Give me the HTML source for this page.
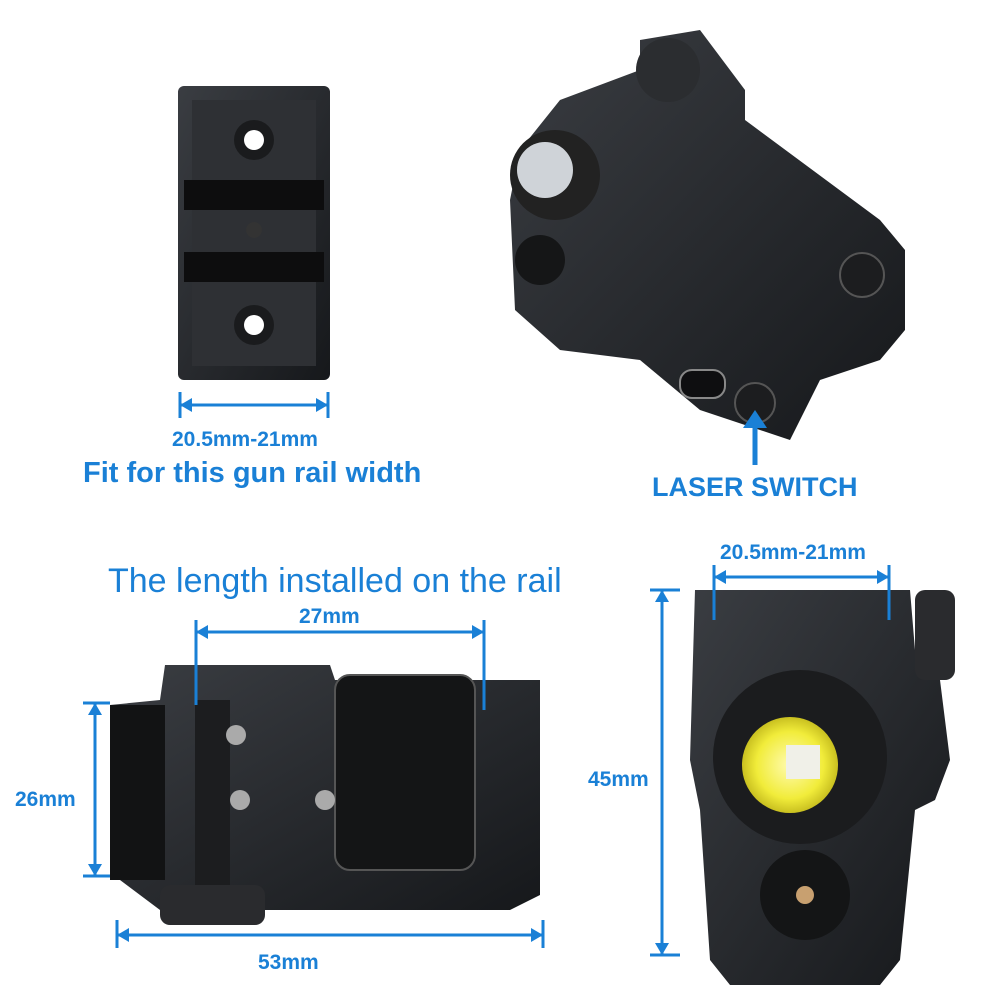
<!DOCTYPE html>
<html><head><meta charset="utf-8"><style>
body{margin:0;background:#fff;}
#c{position:relative;width:1001px;height:1001px;overflow:hidden;font-family:"Liberation Sans",sans-serif;}
.t{position:absolute;color:#1a80d6;font-weight:bold;white-space:nowrap;}
</style></head><body><div id="c">
<svg width="1001" height="1001" style="position:absolute;left:0;top:0">
<defs>
<linearGradient id="g1" x1="0" y1="0" x2="1" y2="1"><stop offset="0" stop-color="#3a3d42"/><stop offset="1" stop-color="#16181b"/></linearGradient>
<radialGradient id="ly" cx="0.5" cy="0.5" r="0.5"><stop offset="0" stop-color="#fffbb0"/><stop offset="0.7" stop-color="#f1ec3a"/><stop offset="1" stop-color="#c9c020"/></radialGradient>
</defs>
<rect x="178" y="86" width="152" height="294" rx="6" fill="url(#g1)"/>
<rect x="192" y="100" width="124" height="266" fill="#2e3034"/>
<rect x="184" y="180" width="140" height="30" fill="#0d0d0e"/>
<rect x="184" y="252" width="140" height="30" fill="#0d0d0e"/>
<circle cx="254" cy="140" r="20" fill="#1a1b1d"/><circle cx="254" cy="140" r="10" fill="#fff"/>
<circle cx="254" cy="325" r="20" fill="#1a1b1d"/><circle cx="254" cy="325" r="10" fill="#fff"/>
<circle cx="254" cy="230" r="8" fill="#333"/>
<path d="M520 150 L560 100 L640 70 L640 40 L700 30 L745 90 L745 120 L880 220 L905 250 L905 330 L880 360 L820 380 L790 440 L700 410 L640 360 L560 350 L515 310 L510 200 Z" fill="url(#g1)"/>
<circle cx="555" cy="175" r="45" fill="#222"/><circle cx="545" cy="170" r="28" fill="#cfd3d8"/>
<circle cx="540" cy="260" r="25" fill="#151617"/>
<circle cx="668" cy="70" r="32" fill="#2b2d30"/>
<rect x="680" y="370" width="45" height="28" rx="12" fill="#0e0e10" stroke="#888" stroke-width="2"/>
<circle cx="755" cy="403" r="20" fill="#1c1d1f" stroke="#555" stroke-width="2"/>
<circle cx="862" cy="275" r="22" fill="#1c1d1f" stroke="#555" stroke-width="2"/>
<path d="M110 705 L160 700 L165 665 L330 665 L335 680 L540 680 L540 895 L510 910 L160 910 L120 880 Z" fill="url(#g1)"/>
<rect x="110" y="705" width="55" height="175" fill="#121314"/>
<rect x="335" y="675" width="140" height="195" rx="15" fill="#141516" stroke="#555" stroke-width="2"/>
<rect x="195" y="700" width="35" height="190" fill="#1c1d1f"/>
<circle cx="236" cy="735" r="10" fill="#aaa"/><circle cx="240" cy="800" r="10" fill="#aaa"/><circle cx="325" cy="800" r="10" fill="#aaa"/>
<rect x="160" y="885" width="105" height="40" rx="10" fill="#2a2b2e"/>
<path d="M695 590 L910 590 L915 650 L940 680 L950 760 L935 800 L915 810 L900 960 L880 985 L730 985 L710 960 L700 810 L690 760 Z" fill="url(#g1)"/>
<rect x="915" y="590" width="40" height="90" rx="10" fill="#2a2b2e"/>
<circle cx="800" cy="757" r="87" fill="#1b1c1e"/>
<circle cx="790" cy="765" r="48" fill="url(#ly)"/>
<rect x="786" y="745" width="34" height="34" fill="#f0f0e8"/>
<circle cx="805" cy="895" r="45" fill="#141516"/><circle cx="805" cy="895" r="9" fill="#c8a070"/>
<g stroke="#1a80d6" stroke-width="3" fill="none">
<line x1="180" y1="405" x2="328" y2="405"/><line x1="180" y1="392" x2="180" y2="418"/><line x1="328" y1="392" x2="328" y2="418"/>
<line x1="196" y1="632" x2="484" y2="632"/><line x1="196" y1="620" x2="196" y2="705"/><line x1="484" y1="620" x2="484" y2="710"/>
<line x1="95" y1="703" x2="95" y2="876"/><line x1="83" y1="703" x2="110" y2="703"/><line x1="83" y1="876" x2="110" y2="876"/>
<line x1="117" y1="935" x2="543" y2="935"/><line x1="117" y1="920" x2="117" y2="948"/><line x1="543" y1="920" x2="543" y2="948"/>
<line x1="714" y1="577" x2="889" y2="577"/><line x1="714" y1="565" x2="714" y2="620"/><line x1="889" y1="565" x2="889" y2="620"/>
<line x1="662" y1="590" x2="662" y2="955"/><line x1="650" y1="590" x2="680" y2="590"/><line x1="650" y1="955" x2="680" y2="955"/>
<line x1="755" y1="425" x2="755" y2="465" stroke-width="5"/>
</g>
<g fill="#1a80d6">
<path d="M180 405 l12 -7 v14z"/><path d="M328 405 l-12 -7 v14z"/>
<path d="M196 632 l12 -7 v14z"/><path d="M484 632 l-12 -7 v14z"/>
<path d="M95 703 l-7 12 h14z"/><path d="M95 876 l-7 -12 h14z"/>
<path d="M117 935 l12 -7 v14z"/><path d="M543 935 l-12 -7 v14z"/>
<path d="M714 577 l12 -7 v14z"/><path d="M889 577 l-12 -7 v14z"/>
<path d="M662 590 l-7 12 h14z"/><path d="M662 955 l-7 -12 h14z"/>
<path d="M755 410 l-12 18 h24z"/>
</g>
</svg>
<div class="t" style="left:172px;top:428px;font-size:21px">20.5mm-21mm</div>
<div class="t" style="left:83px;top:457px;font-size:29px">Fit for this gun rail width</div>
<div class="t" style="left:652px;top:472px;font-size:27px">LASER SWITCH</div>
<div class="t" style="left:108px;top:562px;font-size:34px;font-weight:normal">The length installed on the rail</div>
<div class="t" style="left:299px;top:605px;font-size:21px">27mm</div>
<div class="t" style="left:15px;top:788px;font-size:21px">26mm</div>
<div class="t" style="left:258px;top:951px;font-size:21px">53mm</div>
<div class="t" style="left:720px;top:541px;font-size:21px">20.5mm-21mm</div>
<div class="t" style="left:588px;top:768px;font-size:21px">45mm</div>
</div></body></html>
